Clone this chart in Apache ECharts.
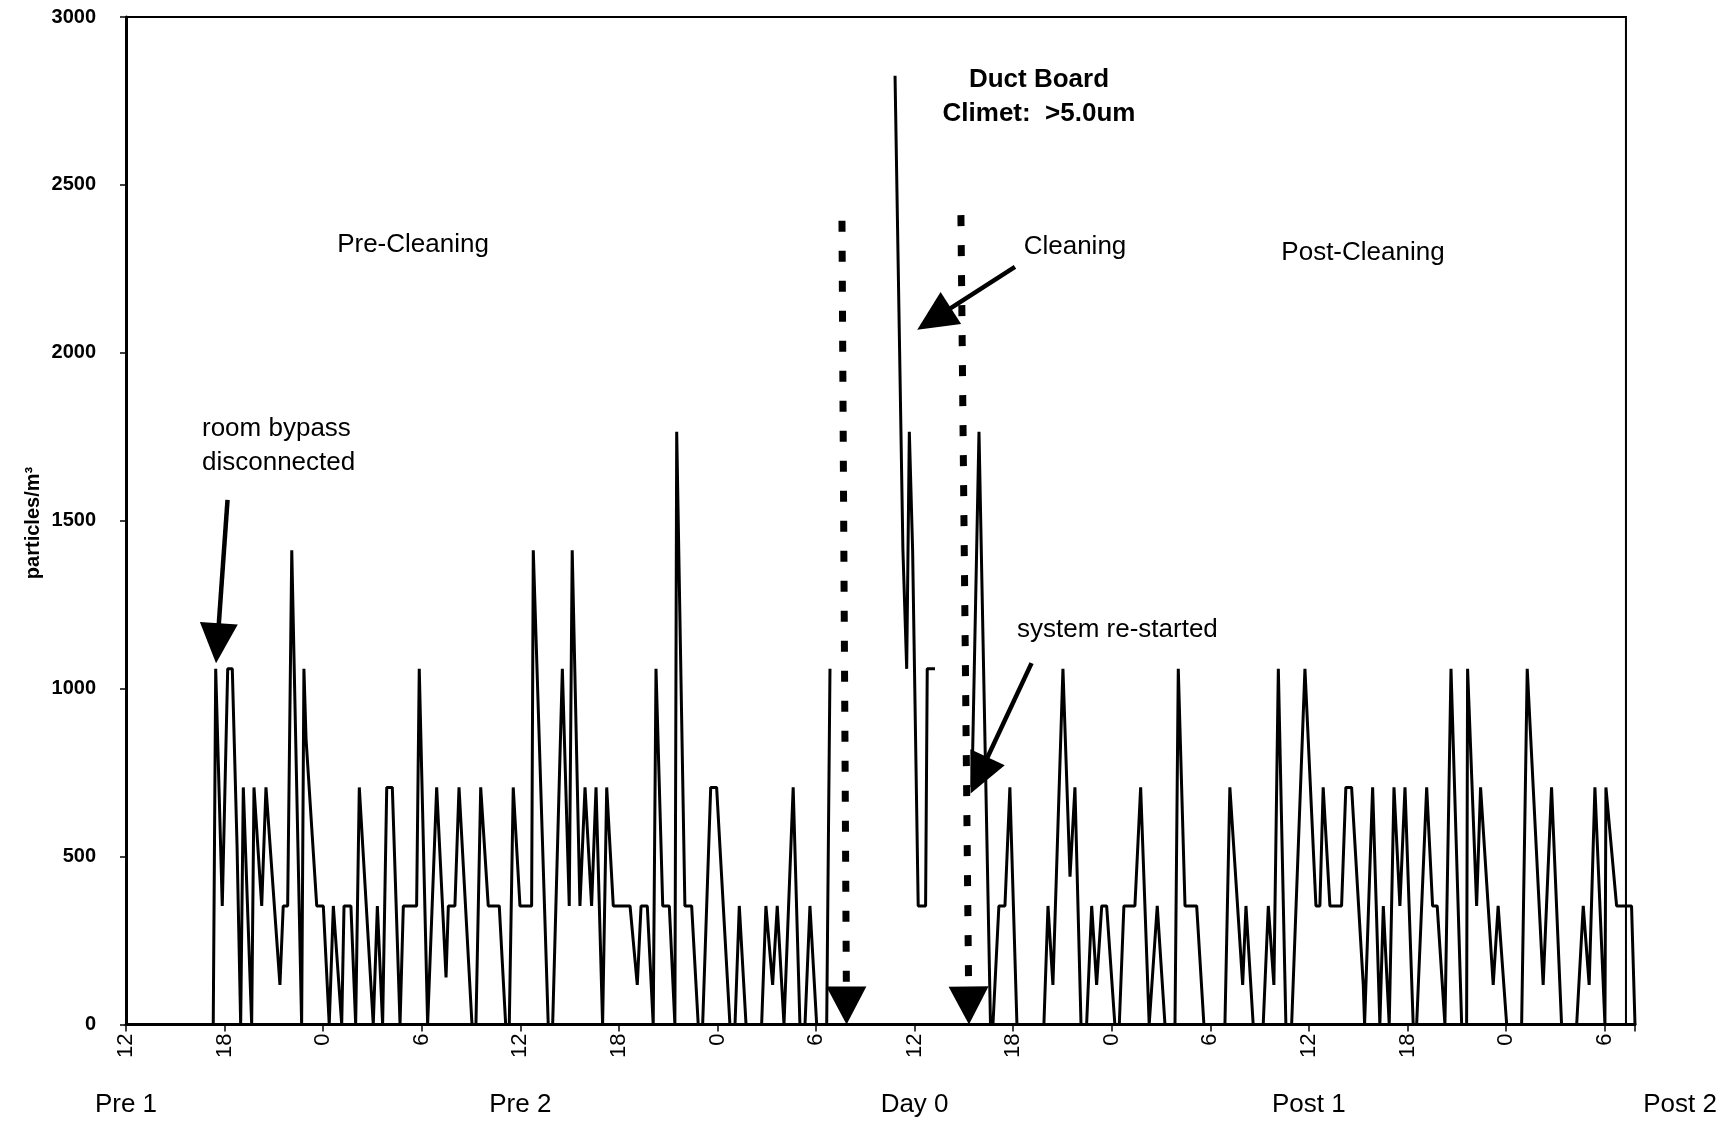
<!DOCTYPE html>
<html><head><meta charset="utf-8">
<script src="https://cdn.jsdelivr.net/npm/echarts@6/dist/echarts.min.js"></script>
<style>html,body{margin:0;padding:0;background:#fff}#main{width:1732px;height:1126px}</style>
</head><body><div id="main"></div>
<script>
// Hours elapsed since 12:00 of day "Pre 1"; values in particles/m3
const preHours = [0, 5.31, 5.46, 5.86, 6.19, 6.47, 6.76, 6.98, 7.14, 7.65, 7.79, 8.26, 8.52, 9.37, 9.57, 9.84, 10.09, 10.69, 10.83, 10.96, 11.61, 12.01, 12.37, 12.62, 13.13, 13.27, 13.69, 13.98, 14.20, 15.05, 15.30, 15.62, 15.87, 16.21, 16.68, 16.88, 17.69, 17.85, 18.36, 18.91, 19.48, 19.62, 20.02, 20.27, 21.06, 21.30, 21.59, 22.05, 22.72, 23.11, 23.33, 23.57, 23.98, 24.69, 24.79, 25.70, 25.97, 26.56, 26.98, 27.16, 27.63, 27.94, 28.34, 28.61, 29.01, 29.26, 29.66, 30.68, 31.12, 31.35, 31.73, 32.09, 32.26, 32.67, 33.07, 33.41, 33.52, 34.02, 34.43, 34.83, 35.10, 35.59, 35.95, 36.76, 37.07, 37.33, 37.74, 38.69, 38.95, 39.36, 39.64, 40.05, 40.61, 41.02, 41.33, 41.63, 42.04, 42.65, 42.85];
const preValues = [0, 0, 1059, 353, 1059, 1059, 530, 0, 706, 0, 706, 353, 706, 118, 353, 353, 1412, 0, 1059, 850, 353, 353, 0, 353, 0, 353, 353, 0, 706, 0, 353, 0, 706, 706, 0, 353, 353, 1059, 0, 706, 140, 353, 353, 706, 0, 0, 706, 353, 353, 0, 0, 706, 353, 353, 1412, 0, 0, 1059, 353, 1412, 353, 706, 353, 706, 0, 706, 353, 353, 118, 353, 353, 0, 1059, 353, 353, 0, 1765, 353, 353, 0, 0, 706, 706, 0, 0, 353, 0, 0, 353, 118, 353, 0, 706, 0, 0, 353, 0, 0, 1059];

const cleanHours = [46.81, 47.29, 47.52, 47.68, 47.88, 48.22, 48.67, 48.77, 49.24];
const cleanValues = [2825, 1412, 1059, 1765, 1412, 353, 353, 1059, 1059];

const postHours = [51.49, 51.92, 52.62, 52.77, 53.13, 53.50, 53.80, 54.23, 55.87, 56.12, 56.42, 57.03, 57.46, 57.76, 58.13, 58.47, 58.78, 59.08, 59.39, 59.69, 60.19, 60.46, 60.74, 61.41, 61.76, 62.28, 62.77, 63.24, 63.85, 64.05, 64.46, 65.17, 65.61, 66.89, 67.19, 67.97, 68.17, 68.61, 69.22, 69.53, 69.87, 70.14, 70.60, 70.95, 71.76, 72.43, 72.67, 72.87, 73.28, 73.99, 74.25, 74.60, 75.31, 75.39, 75.88, 76.32, 76.53, 76.89, 77.18, 77.54, 77.85, 78.35, 78.56, 79.17, 79.53, 79.81, 80.28, 80.65, 81.30, 81.60, 81.66, 82.21, 82.45, 83.22, 83.52, 84.04, 84.95, 85.29, 86.26, 86.77, 87.38, 88.30, 88.70, 89.06, 89.41, 90.02, 90.08, 90.73, 91.64, 91.85];
const postValues = [706, 1765, 0, 0, 353, 353, 706, 0, 0, 353, 118, 1059, 440, 706, 0, 0, 353, 118, 353, 353, 0, 0, 353, 353, 706, 0, 353, 0, 0, 1059, 353, 353, 0, 0, 706, 118, 353, 0, 0, 353, 118, 1059, 0, 0, 1059, 353, 353, 706, 353, 353, 706, 706, 118, 0, 706, 0, 353, 0, 706, 353, 706, 0, 0, 706, 353, 353, 0, 1059, 0, 0, 1059, 353, 706, 118, 353, 0, 0, 1059, 118, 706, 0, 0, 353, 118, 706, 0, 706, 353, 353, 0];

const START_CLOCK = 12;            // clock hour at hour 0
const X_MAX = 91.85;               // end of the time axis (hours)
const FRAME_END = 91.3;            // where the plot frame closes (hours)
const dayLabels = ['Pre 1', 'Pre 2', 'Day 0', 'Post 1', 'Post 2'];
const dayStartHours = [0, 24, 48, 72, 96];

const titleLines = ['Duct Board', 'Climet:  >5.0um'];
const yAxisTitle = 'particles/m\u00B3';

// annotation arrows, in data coordinates [hour, particles/m3]
const solidArrows = [
  { from: [6.18, 1562], to: [5.48, 1076] },   // room bypass disconnected
  { from: [54.11, 2256], to: [48.16, 2069] }, // Cleaning
  { from: [55.12, 1076], to: [51.41, 688] }   // system re-started
];
const dottedArrows = [
  { from: [43.58, 2393], to: [43.86, 0] },
  { from: [50.82, 2410], to: [51.31, 0] }
];

const FONT = '"Liberation Sans", Arial, Helvetica, sans-serif';
const chart = echarts.init(document.getElementById('main'), null, { renderer: 'canvas' });
const pairs = (h, v) => h.map((x, i) => [x, v[i]]);
const seriesLine = { color: '#000', width: 3 };

chart.setOption({
  animation: false,
  backgroundColor: '#fff',
  grid: { left: 126, top: 17, width: 1509, height: 1007.5, show: false },
  xAxis: {
    type: 'value', min: 0, max: X_MAX, interval: 6,
    axisLine: { lineStyle: { color: '#000', width: 3 } },
    axisTick: { length: 7, lineStyle: { color: '#000', width: 1.5 } },
    splitLine: { show: false },
    axisLabel: {
      rotate: 90, margin: 9, color: '#000', fontSize: 22, fontFamily: FONT,
      formatter: v => (Math.abs(v / 6 - Math.round(v / 6)) < 1e-6) ? String((START_CLOCK + Math.round(v)) % 24) : ''
    }
  },
  yAxis: {
    type: 'value', min: 0, max: 3000, interval: 500,
    axisLine: { show: true, lineStyle: { color: '#000', width: 3 } },
    axisTick: { show: true, length: 6, lineStyle: { color: '#000', width: 1.5 } },
    splitLine: { show: false },
    axisLabel: { margin: 30, color: '#000', fontSize: 20, fontWeight: 'bold', fontFamily: FONT, formatter: v => String(v) }
  },
  series: [
    { name: 'pre', type: 'line', data: pairs(preHours, preValues), symbol: 'none', lineStyle: seriesLine, z: 5 },
    { name: 'cleaning', type: 'line', data: pairs(cleanHours, cleanValues), symbol: 'none', lineStyle: seriesLine, z: 5 },
    { name: 'post', type: 'line', data: pairs(postHours, postValues), symbol: 'none', lineStyle: seriesLine, z: 5 }
  ]
});

const toPx = p => chart.convertToPixel({ gridIndex: 0 }, p);
function arrow(a, opt) {
  const p0 = toPx(a.from), p1 = toPx(a.to);
  const dx = p1[0] - p0[0], dy = p1[1] - p0[1];
  const len = Math.hypot(dx, dy), ux = dx / len, uy = dy / len;
  const bx = p1[0] - ux * opt.headLen, by = p1[1] - uy * opt.headLen;
  const nx = -uy, ny = ux, hw = opt.headWidth / 2;
  return [
    { type: 'line', z: 20, shape: { x1: p0[0], y1: p0[1], x2: bx + ux * 2, y2: by + uy * 2 },
      style: { stroke: '#000', lineWidth: opt.width, lineDash: opt.dash || null, lineCap: 'butt' } },
    { type: 'polygon', z: 20, shape: { points: [[p1[0], p1[1]], [bx + nx * hw, by + ny * hw], [bx - nx * hw, by - ny * hw]] },
      style: { fill: '#000' } }
  ];
}
function txt(text, x, y, size, bold, align) {
  return { type: 'text', z: 30, x: x, y: y,
    style: { text: text, fill: '#000', fontSize: size, fontFamily: FONT, fontWeight: bold ? 'bold' : 'normal',
      align: align || 'center', verticalAlign: 'middle' } };
}

const g = [];
// plot frame: top and right edges
const topLeft = toPx([0, 3000]), topRight = toPx([FRAME_END, 3000]), botRight = toPx([FRAME_END, 0]);
g.push({ type: 'polyline', z: 4, shape: { points: [topLeft, topRight, botRight] }, style: { stroke: '#000', lineWidth: 2, fill: null } });

solidArrows.forEach(a => g.push(...arrow(a, { width: 4.5, headLen: 40, headWidth: 38 })));
dottedArrows.forEach(a => g.push(...arrow(a, { width: 7, headLen: 38, headWidth: 40, dash: [11, 19] })));

g.push(txt(titleLines[0], 1039, 80, 26, true));
g.push(txt(titleLines[1], 1039, 114, 26, true));
g.push(txt('Pre-Cleaning', 413, 245, 26));
g.push(txt('Cleaning', 1075, 247, 26));
g.push(txt('Post-Cleaning', 1363, 253, 26));
g.push(txt('room bypass', 202, 429, 26, false, 'left'));
g.push(txt('disconnected', 202, 463, 26, false, 'left'));
g.push(txt('system re-started', 1017, 630, 26, false, 'left'));

const yName = txt(yAxisTitle, 33, 523, 20, true);
yName.rotation = Math.PI / 2;
g.push(yName);

dayLabels.forEach((lab, i) => {
  let x = toPx([dayStartHours[i], 0])[0];
  x = Math.min(x, 1680);
  g.push(txt(lab, x, 1105, 26));
});

chart.setOption({ graphic: g });
</script>
</body></html>
